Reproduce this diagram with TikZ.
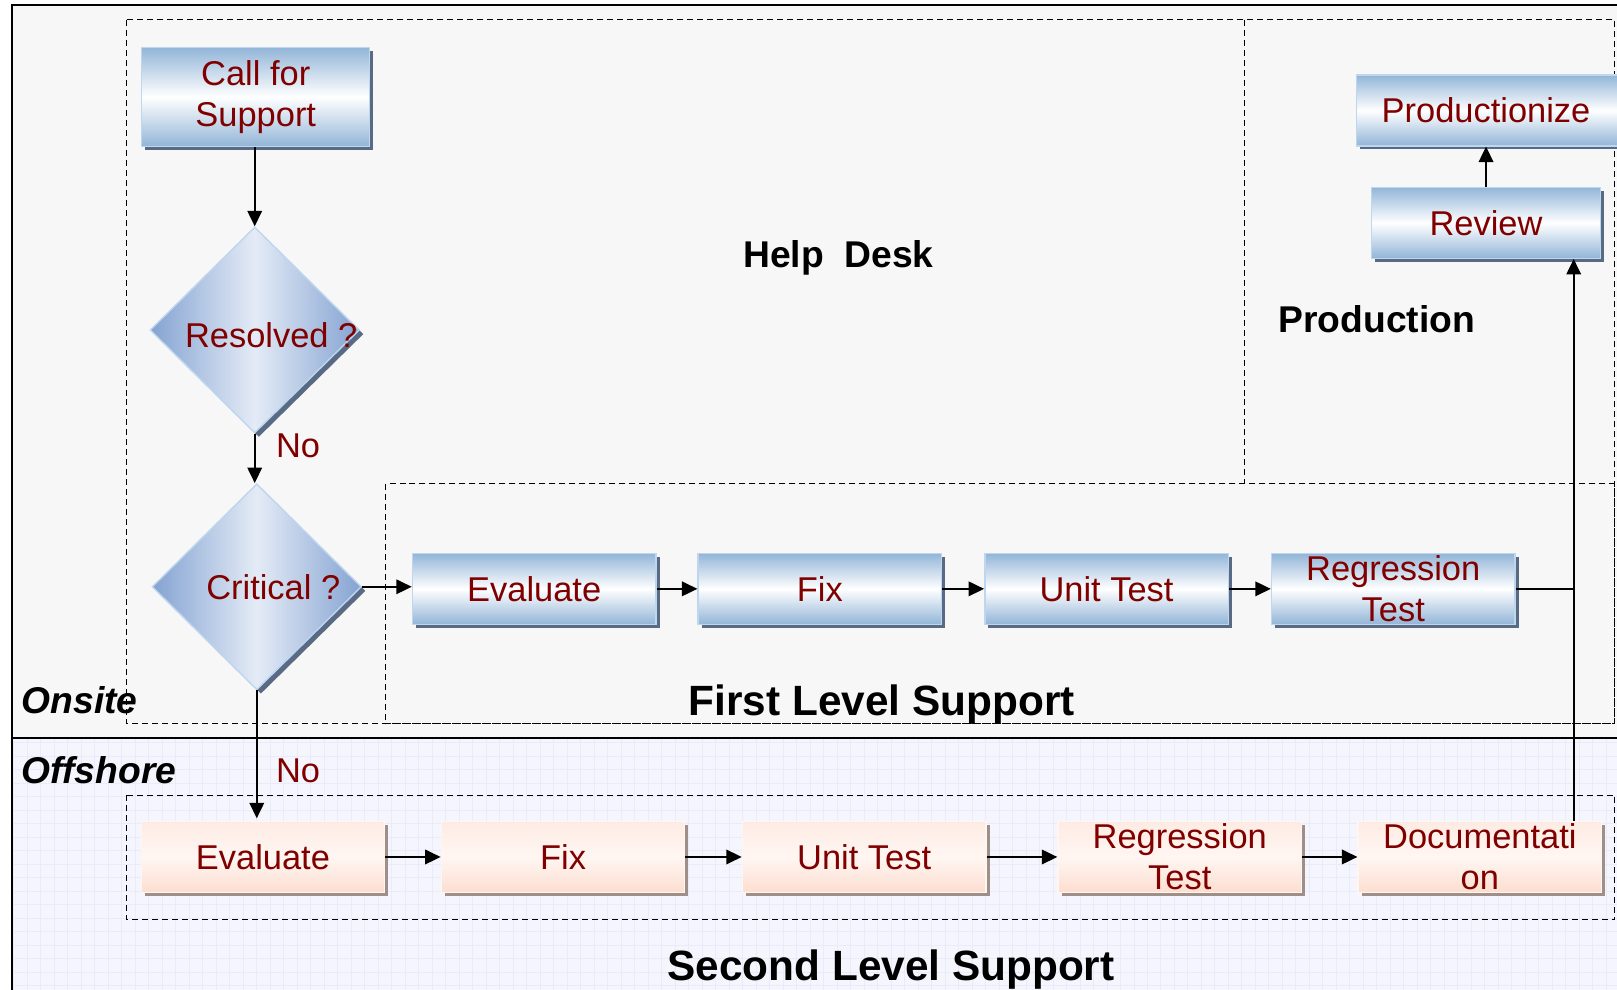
\documentclass[tikz,border=0pt]{standalone}
\usepackage{fontspec}
\setmainfont{Liberation Sans}
\usetikzlibrary{shapes.geometric,arrows.meta}

\definecolor{darkred}{RGB}{128,0,0}
\definecolor{boxblue}{RGB}{146,181,216}
\definecolor{edgeblue}{RGB}{190,214,238}
\definecolor{shadeblue}{RGB}{88,106,132}
\definecolor{diadark}{RGB}{132,163,210}
\definecolor{dialight}{RGB}{228,235,246}
\definecolor{peach}{RGB}{252,222,208}
\definecolor{peachlight}{RGB}{255,246,242}
\definecolor{shadepeach}{RGB}{160,142,136}
\definecolor{onsitebg}{RGB}{247,247,247}
\definecolor{offshorebg}{RGB}{245,246,253}
\definecolor{gridline}{RGB}{233,235,248}

\tikzset{
    boxfont/.style={font=\fontsize{19.6}{23.4}\selectfont},
    pbox/.style={rectangle, boxfont, text=darkred, align=center, inner sep=0pt,
        minimum width=4.87cm, minimum height=1.42cm, line width=0.8pt},
    proc/.style={pbox, draw=edgeblue, top color=boxblue, bottom color=boxblue, middle color=white,
        preaction={fill=shadeblue, transform canvas={shift={(0.072cm,-0.072cm)}}}},
    offproc/.style={pbox, draw=peachlight, top color=peach!60, bottom color=peach, middle color=peachlight,
        preaction={fill=shadepeach, transform canvas={shift={(0.072cm,-0.072cm)}}}},
    decide/.style={diamond, aspect=1, minimum width=4.19cm, minimum height=4.12cm, inner sep=0pt,
        draw=edgeblue, line width=0.8pt, left color=diadark, right color=diadark, middle color=dialight,
        preaction={fill=shadeblue, transform canvas={shift={(0.082cm,-0.082cm)}}}},
    dtext/.style={boxfont, text=darkred, xshift=0.33cm},
    lbl/.style={boxfont, text=darkred},
    region/.style={font=\bfseries\fontsize{21.2}{25}\selectfont, anchor=base},
    level/.style={font=\bfseries\fontsize{24.1}{29}\selectfont, anchor=base},
    lane/.style={font=\bfseries\itshape\fontsize{21.2}{25}\selectfont, anchor=base west},
    group/.style={dash pattern=on 0.12cm off 0.08cm, line width=0.6pt},
    arr/.style={-{Triangle[length=0.31cm,width=0.29cm]}, line width=1.1pt}
}

\begin{document}
\begin{tikzpicture}[x=0.020625cm, y=-0.020625cm]
    \useasboundingbox (0,0) rectangle (1568,960);
    \clip (0,0) rectangle (1568,960);

    % swim lanes
    \fill[onsitebg] (12,5) rectangle (1600,716);
    \fill[offshorebg] (12,716) rectangle (1600,1000);
    \draw[gridline, line width=0.3pt, step=0.27cm] (12,716) grid (1600,1000);
    \draw[line width=1.1pt] (12,1000) -- (12,5) -- (1600,5);
    \draw[line width=1.1pt] (12,716) -- (1600,716);

    % dashed groups
    \draw[group] (123,19) rectangle (1566,702);
    \draw[group] (1207,19) -- (1207,469);
    \draw[group] (374,469) rectangle (1566,702);
    \draw[group] (123,771) rectangle (1566,892);

    \node[lane] (onsite) at (15,692) {Onsite};
    \node[lane] (offshore) at (15,760) {Offshore};
    \node[region] (helpdesk) at (813,259) {Help~~Desk};
    \node[region] (production) at (1335,322) {Production};
    \node[level] (firstlvl) at (855,694) {First Level Support};
    \node[level] (secondlvl) at (864,951) {Second Level Support};

    % help desk
    \node[proc, minimum width=4.56cm, minimum height=1.98cm] (call) at (248,94) {Call for\\Support};
    \node[decide, label={[dtext, yshift=-0.1cm]center:Resolved ?}] (res) at (247,320) {};
    \node[decide, label={[dtext]center:Critical ?}] (crit) at (249,569) {};

    % first level support
    \node[proc] (eval1) at (518,571) {Evaluate};
    \node[proc] (fix1) at (795,571) {Fix};
    \node[proc] (unit1) at (1073,571) {Unit Test};
    \node[proc] (reg1) at (1351,571) {Regression\\Test};

    % production
    \node[proc, minimum width=6.13cm] (prodz) at (1464,107) {Productionize\hspace{0.95cm}};
    \node[proc, minimum width=4.58cm] (rev) at (1441,216) {Review};

    % second level support
    \node[offproc] (eval2) at (255,831) {Evaluate};
    \node[offproc] (fix2) at (546,831) {Fix};
    \node[offproc] (unit2) at (838,831) {Unit Test};
    \node[offproc] (reg2) at (1144,831) {Regression\\Test};
    \node[offproc] (doc2) at (1435,831) {Documentati\\on};

    % connectors
    \draw[arr] (call.south -| res.north) -- (res.north);
    \draw[arr] (res.south) -- (res.south |- crit.north);
    \node[lbl] (no1) at (289,432) {No};
    \draw[arr] (crit.east) -- (crit.east -| eval1.west);
    \draw[arr] (crit.south) -- ++(0,124);
    \node[lbl] (no2) at (289,747) {No};
    \foreach \a/\b in {eval1/fix1, fix1/unit1, unit1/reg1, eval2/fix2, fix2/unit2, unit2/reg2, reg2/doc2}
        \draw[arr] (\a.east) -- (\b.west);
    \coordinate (jn) at (1526,571);
    \draw[line width=1.1pt] (reg1.east) -- (jn);
    \draw[arr] (doc2.north -| jn) -- (rev.south -| jn);
    \draw[arr] (rev.north) -- (rev.north |- prodz.south);
\end{tikzpicture}
\end{document}
